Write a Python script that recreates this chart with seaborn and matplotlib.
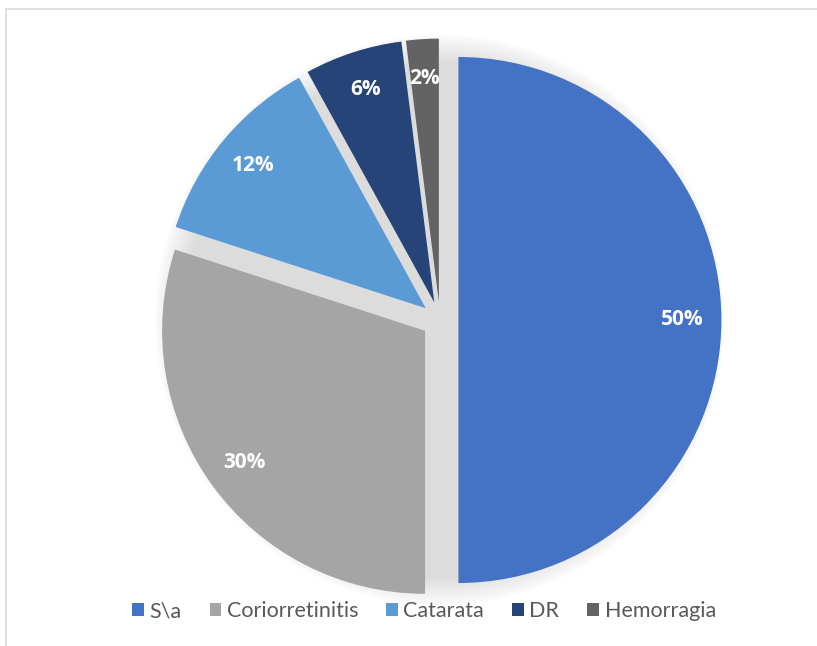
import numpy as np
import pandas as pd
import seaborn as sns
import matplotlib.pyplot as plt
from matplotlib.patches import Rectangle, Circle

# data
categories = ["S\\a", "Coriorretinitis", "Catarata", "DR", "Hemorragia"]
values = [50, 30, 12, 6, 2]
colors = ["#4472C4", "#A5A5A5", "#5B9BD5", "#264478", "#636363"]

df = pd.DataFrame({"cat": categories, "val": values})

sns.set_theme(style="white")
plt.rcParams['font.family'] = ['Lato', 'DejaVu Sans']

fig = plt.figure(figsize=(8.17, 6.46), dpi=100)
ax = fig.add_axes([0, 0, 1, 1])

# pixel-matched geometry: radius 1 -> 263 px, centre at (440, 320) from top-left
r_px = 263
cx, cy = 440, 320
W, H = 817, 646

# soft glow behind the pie
for i in range(16):
    ax.add_patch(Circle((0, 0), 0.98 + 0.007 * i, color="#B0B0B0",
                        alpha=0.028, linewidth=0, zorder=0))

pal = sns.color_palette(colors)
wedges, texts, autotexts = ax.pie(
    df["val"], colors=pal, startangle=90, counterclock=False,
    explode=[0.07] * len(df), autopct="%1.0f%%", pctdistance=0.85,
    wedgeprops=dict(linewidth=0, zorder=2),
    textprops=dict(color="white", fontsize=15, fontweight="bold",
                   family=["Open Sans", "DejaVu Sans"]))
for t in autotexts:
    t.set_zorder(3)

ax.set_xlim(-cx / r_px, (W - cx) / r_px)
ax.set_ylim(-(H - cy) / r_px, cy / r_px)
ax.set_aspect("equal")
ax.axis("off")

leg = fig.legend(wedges, df["cat"], loc="center", ncol=5,
                 bbox_to_anchor=(424 / W, 1 - 611 / H), frameon=False,
                 fontsize=15.5, handlelength=0.55, handleheight=0.55,
                 handletextpad=0.25, columnspacing=1.3)
for t in leg.get_texts():
    t.set_color("#595959")

# chart area border
fig.patches.append(Rectangle((6 / W, -0.1), 1.2, 1 - 9 / H + 0.1,
                             transform=fig.transFigure, fill=False,
                             edgecolor="#D9D9D9", linewidth=1.2))

fig.savefig("out.png", dpi=100)
